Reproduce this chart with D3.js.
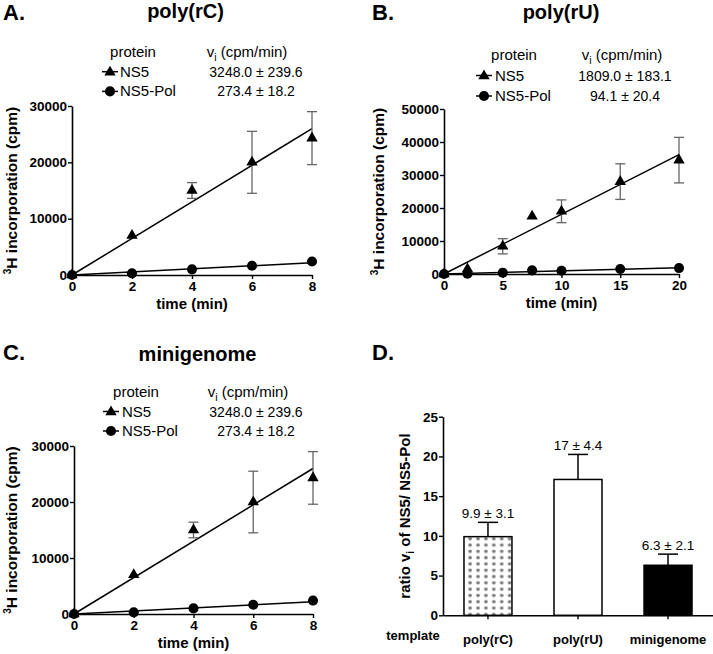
<!DOCTYPE html>
<html><head><meta charset="utf-8">
<script src="https://cdn.jsdelivr.net/npm/d3@7"></script>
<style>
body{margin:0;background:#fff}
svg text{font-family:"Liberation Sans",Arial,Helvetica,sans-serif;fill:#000}
</style>
</head><body>
<svg id="chart" width="713" height="654"></svg>
<script>
// ---------- data ----------
const panelLetters = ["A.", "B.", "C.", "D."];
const panelTitles = ["poly(rC)", "poly(rU)", "minigenome"];
const proteins = ["NS5", "NS5-Pol"];

// panel A: poly(rC)
const timeRC = [0, 2, 4, 6, 8];
const ns5RC = [0, 7000, 15000, 20000, 24300];
const ns5ErrRC = [0, 0, 1400, 5500, 4700];
const polRC = [0, 300, 1000, 1650, 2400];
const ratesRC = [3248.0, 273.4];
const rateLabelsRC = ["3248.0 ± 239.6", "273.4 ± 18.2"];
const xTicksRC = [0, 2, 4, 6, 8];
const yTicksRC = [0, 10000, 20000, 30000];

// panel B: poly(rU)
const timeRU = [0, 2, 5, 7.5, 10, 15, 20];
const ns5RU = [0, 1500, 8400, 17500, 19000, 28000, 34500];
const ns5ErrRU = [0, 0, 2300, 0, 3450, 5400, 6900];
const polRU = [0, 100, 400, 1100, 1000, 1500, 1800];
const ratesRU = [1809.0, 94.1];
const rateLabelsRU = ["1809.0 ± 183.1", "94.1 ± 20.4"];
const xTicksRU = [0, 5, 10, 15, 20];
const yTicksRU = [0, 10000, 20000, 30000, 40000, 50000];

// panel C: minigenome
const timeMG = [0, 2, 4, 6, 8];
const ns5MG = [0, 7000, 15000, 20000, 24300];
const ns5ErrMG = [0, 0, 1400, 5500, 4700];
const polMG = [0, 300, 1000, 1650, 2400];
const ratesMG = [3248.0, 273.4];
const rateLabelsMG = ["3248.0 ± 239.6", "273.4 ± 18.2"];
const xTicksMG = [0, 2, 4, 6, 8];
const yTicksMG = [0, 10000, 20000, 30000];

// panel D: ratio
const templates = ["poly(rC)", "poly(rU)", "minigenome"];
const ratios = [9.9, 17.1, 6.3];
const ratioErr = [1.8, 3.15, 1.4];
const ratioLabels = ["9.9 ± 3.1", "17 ± 4.4", "6.3 ± 2.1"];
const yTicksD = [0, 5, 10, 15, 20, 25];

// ---------- drawing ----------
const svg = d3.select("#chart");
const FONT = '"Liberation Sans",Arial,Helvetica,sans-serif';

// pattern for poly(rC) bar
const defs = svg.append("defs");
const pat = defs.append("pattern").attr("id", "stars").attr("patternUnits", "userSpaceOnUse")
  .attr("width", 7.9).attr("height", 6.3).attr("x", 0).attr("y", 0);
pat.append("rect").attr("width", 7.9).attr("height", 6.3).attr("fill", "#fff");
const sg = pat.append("g").attr("transform", "translate(4,3.2)").attr("stroke", "#777").attr("stroke-width", 1);
sg.append("line").attr("x1", -1.7).attr("x2", 1.7).attr("y1", 0).attr("y2", 0);
sg.append("line").attr("x1", 0).attr("x2", 0).attr("y1", -1.7).attr("y2", 1.7);
sg.append("line").attr("x1", -1.3).attr("x2", 1.3).attr("y1", -1.3).attr("y2", 1.3);
sg.append("line").attr("x1", -1.3).attr("x2", 1.3).attr("y1", 1.3).attr("y2", -1.3);

function styleAxis(g, size) {
  g.select(".domain").attr("stroke", "#000").attr("stroke-width", 1.6);
  g.selectAll(".tick line").attr("stroke", "#000").attr("stroke-width", 1.4);
  g.selectAll(".tick text").attr("font-family", FONT).attr("font-weight", "bold")
    .attr("font-size", size).attr("fill", "#000");
}

const triSym = d3.symbol().type(d3.symbolTriangle).size(56);
const cirSym = d3.symbol().type(d3.symbolCircle).size(80);

function linePanel(o) {
  const g = svg.append("g");
  const x = d3.scaleLinear().domain([0, d3.max(o.xTicks)]).range([o.x0, o.x1]);
  const y = d3.scaleLinear().domain([0, d3.max(o.yTicks)]).range([o.yb, o.yt]);

  // letter + title
  g.append("text").attr("x", o.letterX).attr("y", o.letterY).attr("font-size", 22)
    .attr("font-weight", "bold").text(o.letter);
  g.append("text").attr("x", o.titleX).attr("y", o.titleY).attr("font-size", 20)
    .attr("font-weight", "bold").attr("text-anchor", "middle").text(o.title);

  // legend
  const L = o.legend;
  g.append("text").attr("x", L.protX).attr("y", L.y0).attr("font-size", 15)
    .attr("text-anchor", "middle").text("protein");
  const vt = g.append("text").attr("x", L.rateX).attr("y", L.y0).attr("font-size", 15)
    .attr("text-anchor", "middle");
  vt.append("tspan").text("v");
  vt.append("tspan").attr("font-size", 10.5).attr("dy", 4).text("i");
  vt.append("tspan").attr("dy", -4).text(" (cpm/min)");
  proteins.forEach((p, i) => {
    const yy = L.y0 + L.dy * (i + 1);
    g.append("line").attr("x1", L.markX - 8).attr("x2", L.markX + 8)
      .attr("y1", yy - 5).attr("y2", yy - 5).attr("stroke", "#000").attr("stroke-width", 1.5);
    g.append("path").attr("d", i === 0 ? triSym() : cirSym())
      .attr("transform", `translate(${L.markX},${yy - (i === 0 ? 4.5 : 5)})`).attr("fill", "#000");
    g.append("text").attr("x", L.textX).attr("y", yy).attr("font-size", 15).text(p);
    g.append("text").attr("x", L.valX).attr("y", yy).attr("font-size", 14)
      .attr("text-anchor", "middle").text(o.rateLabels[i]);
  });

  // axes
  const ya = g.append("g").attr("transform", `translate(${o.x0},0)`)
    .call(d3.axisLeft(y).tickValues(o.yTicks).tickFormat(d3.format("d")).tickSize(4).tickSizeOuter(0).tickPadding(1));
  styleAxis(ya, 13.5);
  const xa = g.append("g").attr("transform", `translate(0,${o.yb})`)
    .call(d3.axisBottom(x).tickValues(o.xTicks).tickFormat(d3.format("d")).tickSize(4).tickSizeOuter(0).tickPadding(2));
  styleAxis(xa, 13.5);

  // axis titles
  g.append("text").attr("x", (o.x0 + o.x1) / 2).attr("y", o.yb + 34).attr("font-size", 15)
    .attr("font-weight", "bold").attr("text-anchor", "middle").text("time (min)");
  const yt = g.append("text").attr("transform", `translate(${o.ytX},${(o.yt + o.yb) / 2}) rotate(-90)`)
    .attr("font-size", 15.5).attr("font-weight", "bold").attr("text-anchor", "middle");
  yt.append("tspan").attr("font-size", 10).attr("dy", -6).text("3");
  yt.append("tspan").attr("dy", 6).text("H incorporation (cpm)");

  // fit lines
  const tmax = d3.max(o.xTicks);
  o.rates.forEach(r => {
    g.append("line").attr("x1", x(0)).attr("y1", y(0)).attr("x2", x(tmax)).attr("y2", y(r * tmax))
      .attr("stroke", "#000").attr("stroke-width", 1.5);
  });

  // error bars
  const eb = g.append("g").attr("stroke", "#666").attr("stroke-width", 1.3);
  o.t.forEach((t, i) => {
    const e = o.err[i];
    if (!e) return;
    const cx = x(t);
    eb.append("line").attr("x1", cx).attr("x2", cx).attr("y1", y(o.ns5[i] - e)).attr("y2", y(o.ns5[i] + e));
    [o.ns5[i] - e, o.ns5[i] + e].forEach(v => {
      eb.append("line").attr("x1", cx - 5).attr("x2", cx + 5).attr("y1", y(v)).attr("y2", y(v));
    });
  });

  // markers
  g.selectAll(null).data(o.t.map((t, i) => [t, o.pol[i]])).join("path")
    .attr("d", cirSym()).attr("transform", d => `translate(${x(d[0])},${y(d[1])})`).attr("fill", "#000");
  g.selectAll(null).data(o.t.map((t, i) => [t, o.ns5[i]])).join("path")
    .attr("d", triSym()).attr("transform", d => `translate(${x(d[0])},${y(d[1])})`).attr("fill", "#000");
}

linePanel({
  x0: 72, x1: 312, yt: 106, yb: 275, ytX: 16.5,
  xTicks: xTicksRC, yTicks: yTicksRC, t: timeRC, ns5: ns5RC, err: ns5ErrRC, pol: polRC,
  rates: ratesRC, rateLabels: rateLabelsRC,
  letter: panelLetters[0], letterX: 3, letterY: 20, title: panelTitles[0], titleX: 185.5, titleY: 18,
  legend: {protX: 133, rateX: 247, y0: 57, dy: 19.7, markX: 110, textX: 120, valX: 256}
});
linePanel({
  x0: 444, x1: 679, yt: 109, yb: 274, ytX: 384,
  xTicks: xTicksRU, yTicks: yTicksRU, t: timeRU, ns5: ns5RU, err: ns5ErrRU, pol: polRU,
  rates: ratesRU, rateLabels: rateLabelsRU,
  letter: panelLetters[1], letterX: 372, letterY: 20, title: panelTitles[1], titleX: 561, titleY: 19,
  legend: {protX: 514, rateX: 622, y0: 60, dy: 20.5, markX: 484, textX: 495, valX: 625}
});
linePanel({
  x0: 74, x1: 313, yt: 446, yb: 614, ytX: 16.5,
  xTicks: xTicksMG, yTicks: yTicksMG, t: timeMG, ns5: ns5MG, err: ns5ErrMG, pol: polMG,
  rates: ratesMG, rateLabels: rateLabelsMG,
  letter: panelLetters[2], letterX: 3, letterY: 360, title: panelTitles[2], titleX: 197.5, titleY: 361,
  legend: {protX: 136, rateX: 248, y0: 397, dy: 19.5, markX: 111, textX: 122, valX: 256}
});

// ---------- panel D ----------
(function () {
  const g = svg.append("g");
  const x = d3.scaleBand().domain(templates).range([443, 713]).paddingInner(0.467).paddingOuter(0.233);
  const y = d3.scaleLinear().domain([0, 25]).range([615.3, 416.7]);

  g.append("text").attr("x", 372).attr("y", 360).attr("font-size", 22).attr("font-weight", "bold").text(panelLetters[3]);

  const fills = ["url(#stars)", "#fff", "#000"];
  templates.forEach((tpl, i) => {
    const cx = x(tpl) + x.bandwidth() / 2;
    const top = y(ratios[i] + ratioErr[i]);
    g.append("line").attr("x1", cx).attr("x2", cx).attr("y1", y(ratios[i])).attr("y2", top)
      .attr("stroke", "#000").attr("stroke-width", 1.5);
    g.append("line").attr("x1", cx - 10).attr("x2", cx + 10).attr("y1", top).attr("y2", top)
      .attr("stroke", "#000").attr("stroke-width", 1.5);
    g.append("rect").attr("x", x(tpl)).attr("y", y(ratios[i])).attr("width", x.bandwidth())
      .attr("height", y(0) - y(ratios[i])).attr("fill", fills[i]).attr("stroke", "#000").attr("stroke-width", 1.5);
    g.append("text").attr("x", cx).attr("y", top - 4.5).attr("font-size", 13.5)
      .attr("text-anchor", "middle").text(ratioLabels[i]);
  });

  const ya = g.append("g").attr("transform", "translate(443,0)")
    .call(d3.axisLeft(y).tickValues(yTicksD).tickSize(4).tickSizeOuter(0).tickPadding(1));
  styleAxis(ya, 13.5);
  const xa = g.append("g").attr("transform", `translate(0,${y(0)})`)
    .call(d3.axisBottom(x).tickSize(4).tickSizeOuter(0).tickPadding(15));
  styleAxis(xa, 13);

  g.append("text").attr("x", 413).attr("y", 640).attr("font-size", 13).attr("font-weight", "bold")
    .attr("text-anchor", "middle").text("template");

  const yt = g.append("text").attr("transform", `translate(410,516) rotate(-90)`)
    .attr("font-size", 15).attr("font-weight", "bold").attr("text-anchor", "middle");
  yt.append("tspan").text("ratio v");
  yt.append("tspan").attr("font-size", 10).attr("dy", 4).text("i");
  yt.append("tspan").attr("dy", -4).text(" of NS5/ NS5-Pol");
})();
</script>
</body></html>
